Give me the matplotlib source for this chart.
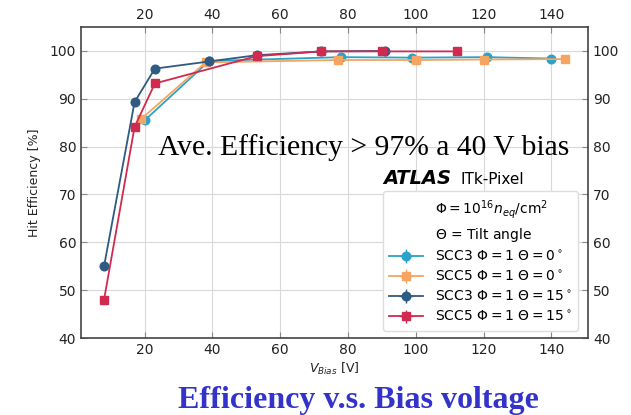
import matplotlib.pyplot as plt
from matplotlib.lines import Line2D

# bias scans, hit efficiency in %
v_scc3_t0 = [20, 39, 78, 99, 121, 140]
eff_scc3_t0 = [85.5, 97.9, 98.7, 98.6, 98.7, 98.4]

v_scc5_t0 = [19, 38, 77, 100, 120, 144]
eff_scc5_t0 = [85.8, 97.6, 98.1, 98.1, 98.2, 98.3]

v_scc3_t15 = [8, 17, 23, 39, 53, 72, 91]
eff_scc3_t15 = [55.0, 89.3, 96.3, 97.8, 99.1, 99.9, 100.0]

v_scc5_t15 = [8, 17, 23, 53, 72, 90, 112]
eff_scc5_t15 = [48.0, 84.1, 93.2, 98.9, 99.9, 99.9, 99.9]

labels = [r'SCC3 $\Phi = 1$ $\Theta = 0^\circ$',
          r'SCC5 $\Phi = 1$ $\Theta = 0^\circ$',
          r'SCC3 $\Phi = 1$ $\Theta = 15^\circ$',
          r'SCC5 $\Phi = 1$ $\Theta = 15^\circ$']

c_cyan = '#2ba3c6'
c_orange = '#f6a461'
c_navy = '#2f5b82'
c_red = '#d12a4f'

fig = plt.figure(figsize=(6.31, 4.15), dpi=100)
ax = fig.add_axes([81 / 631, 1 - 338 / 415, 507 / 631, 311 / 415])

series = [
    (v_scc3_t0, eff_scc3_t0, c_cyan, 'o'),
    (v_scc5_t0, eff_scc5_t0, c_orange, 's'),
    (v_scc3_t15, eff_scc3_t15, c_navy, 'o'),
    (v_scc5_t15, eff_scc5_t15, c_red, 's'),
]
for (vx, vy, col, mk), lab in zip(series, labels):
    ax.errorbar(vx, vy, xerr=0.3, yerr=0.2, color=col, marker=mk, ms=6.2,
                lw=1.3, elinewidth=1.0, capsize=0, label=lab)

ax.set_xlim(1.2, 150.8)
ax.set_ylim(40, 105)
ax.set_xticks([20, 40, 60, 80, 100, 120, 140])
ax.set_yticks([40, 50, 60, 70, 80, 90, 100])
ax.grid(True, color='#d8d8d8', lw=0.8)
ax.set_axisbelow(True)
for s in ax.spines.values():
    s.set_color('#444444')
    s.set_linewidth(1.2)
ax.tick_params(direction='in', length=4, color='#888888', labelsize=10,
               top=True, right=True, labeltop=True, labelright=True,
               labelcolor='#222222')

ax.set_xlabel(r'$V_{Bias}$ [V]', fontsize=9, color='#222222', labelpad=3)
ax.set_ylabel('Hit Efficiency [%]', fontsize=9, color='#222222', labelpad=6)

# legend with two header rows without handles
blank = Line2D([], [], linestyle='none', marker='none')
h, l = ax.get_legend_handles_labels()
leg = ax.legend([blank, blank] + h,
                [r'$\Phi = 10^{16} n_{eq}/\mathrm{cm}^2$', r'$\Theta$ = Tilt angle'] + l,
                loc='lower right', bbox_to_anchor=(0.985, 0.015), fontsize=10,
                frameon=True, framealpha=1, edgecolor='#dddddd',
                handlelength=2.4, handletextpad=0.85, borderpad=0.45,
                borderaxespad=0.2, labelspacing=0.4)

fig.text(383 / 631, 1 - 178 / 415, 'ATLAS', fontsize=14, fontweight='bold',
         fontstyle='italic', va='center', ha='left')
fig.text(460 / 631, 1 - 179 / 415, 'ITk-Pixel', fontsize=11, va='center', ha='left')

fig.text(158 / 631, 1 - 148 / 415, 'Ave. Efficiency > 97% a 40 V bias',
         family='Liberation Serif', fontsize=21.3, va='center', ha='left')

fig.text(358 / 631, 1 - 400 / 415, 'Efficiency v.s. Bias voltage',
         family='Liberation Serif', fontsize=23, fontweight='bold',
         color='#3333cc', va='center', ha='center')

fig.savefig('out.png', dpi=100)
